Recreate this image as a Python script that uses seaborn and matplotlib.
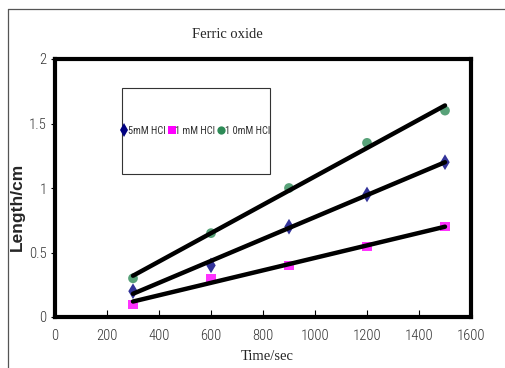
import numpy as np
import pandas as pd
import matplotlib
matplotlib.use("Agg")
import matplotlib.pyplot as plt
import seaborn as sns
from matplotlib.patches import Rectangle
from matplotlib.lines import Line2D

time_sec = [300, 600, 900, 1200, 1500]
len_5mM = [0.2, 0.4, 0.7, 0.95, 1.2]
len_1mM = [0.1, 0.3, 0.4, 0.55, 0.7]
len_10mM = [0.3, 0.65, 1.0, 1.35, 1.6]
series_labels = ["5mM HCl", "1 mM HCl", "1 0mM HCl"]
x_ticks = [0, 200, 400, 600, 800, 1000, 1200, 1400, 1600]
y_ticks = [0, 0.5, 1, 1.5, 2]
y_tick_labels = ["0", "0.5", "1", "1.5", "2"]

sns.set_style("white")
plt.rcParams["font.family"] = ["Roboto Condensed", "DejaVu Sans"]

fig = plt.figure(figsize=(5.06, 3.68), dpi=100)
ax = fig.add_axes([55/506, 1-317/368, 416/506, 258/368])

series = [
    (len_5mM, "d", "#000080", 8),
    (len_1mM, "s", "#ff00ff", 6.5),
    (len_10mM, "o", "#2e8b57", 7),
]
handles = []
for (vals, mk, col, ms), lab in zip(series, series_labels):
    df = pd.DataFrame({"t": time_sec, "L": vals})
    sns.regplot(data=df, x="t", y="L", ax=ax, ci=None, truncate=True,
                marker=mk,
                scatter_kws=dict(color=col, s=ms**2, edgecolors="none", zorder=2),
                line_kws=dict(color="black", lw=3.2, zorder=3))
    handles.append(Line2D([], [], ls="none", marker=mk, color=col,
                          markersize=ms*0.85, markeredgewidth=0, label=lab))

ax.set_xlim(0, 1600)
ax.set_ylim(0, 2)
ax.set_xticks(x_ticks)
ax.set_yticks(y_ticks)
ax.set_yticklabels(y_tick_labels)
ax.set_xlabel("")
ax.set_ylabel("")
for s in ax.spines.values():
    s.set_visible(True)
    s.set_color("black")
    s.set_linewidth(3)
ax.tick_params(axis="x", direction="in", length=5, width=0.8, colors="black",
               labelsize=10.5, pad=9, labelcolor="#333333")
ax.tick_params(axis="y", direction="out", length=3, width=0.8, colors="black",
               labelsize=10.5, pad=3, labelcolor="#333333")
ax.tick_params(bottom=True, left=True)
for t in ax.get_xticklabels() + ax.get_yticklabels():
    t.set_fontweight("light")

# legend box
x0, x1 = (122-55)/416, (270-55)/416
y0, y1 = (317-174)/258, (317-88)/258
ax.add_patch(Rectangle((x0, y0), x1-x0, y1-y0, transform=ax.transAxes,
                       facecolor="white", edgecolor="#333333", lw=0.8, zorder=4))
leg = ax.legend(handles=handles, loc="center", bbox_to_anchor=((x0+x1)/2, (y0+y1)/2),
                ncol=3, frameon=False, handlelength=0.5, handletextpad=0.12,
                columnspacing=0.3, fontsize=7.5, borderaxespad=0)
leg.set_zorder(5)
for t in leg.get_texts():
    t.set_color("#333333")

fig.text(227/506, 1-35/368, "Ferric oxide", ha="center", va="center",
         family=["Liberation Serif", "DejaVu Serif"], fontsize=10.5)
fig.text(267/506, 1-357/368, "Time/sec", ha="center", va="center",
         family=["Liberation Serif", "DejaVu Serif"], fontsize=10.5)
fig.text(17/506, 1-207/368, "Length/cm", ha="center", va="center", rotation=90,
         family=["Liberation Sans", "DejaVu Sans"], fontsize=12.5, fontweight="bold")

# outer frame
fig.add_artist(Line2D([8/506, 8/506], [0, 1-9/368], transform=fig.transFigure,
                      color="#555555", lw=0.9))
fig.add_artist(Line2D([8/506, 1], [1-9/368, 1-9/368], transform=fig.transFigure,
                      color="#555555", lw=0.9))

fig.savefig("out.png", dpi=100)
